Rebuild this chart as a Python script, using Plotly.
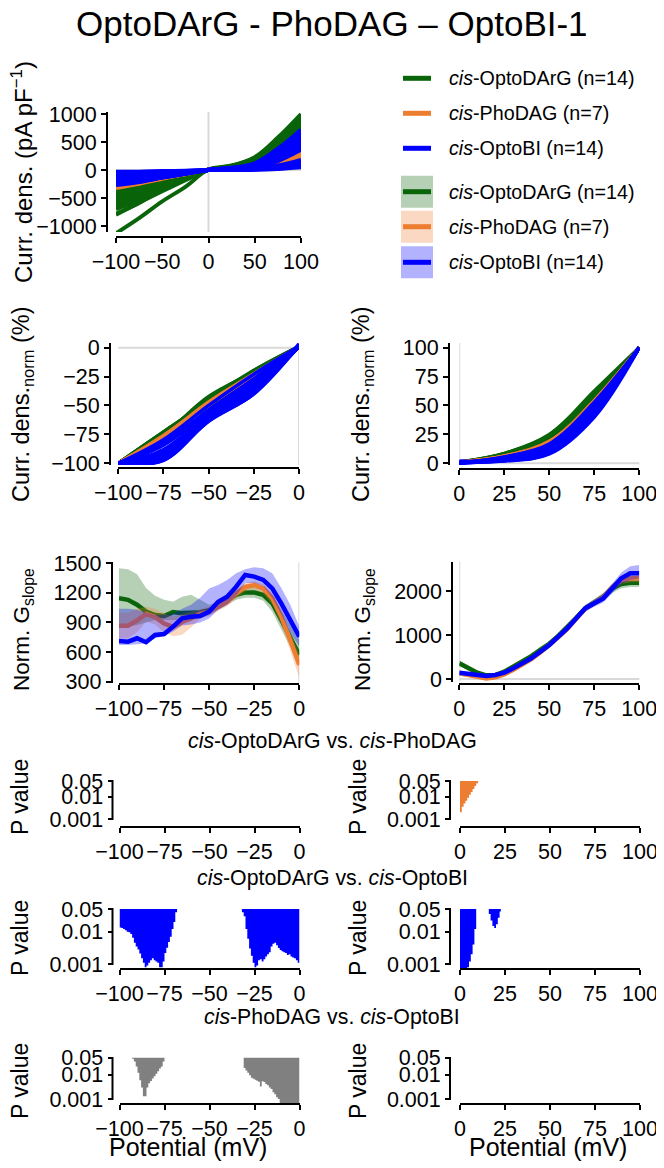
import plotly.graph_objects as go

# The page places the figure 8 px from the top-left corner, so the figure is
# 8 px smaller than the window and every reference pixel is shifted by 8.
W, H = 656, 1160
OFF = 8
FONT = "Liberation Sans, Arial, sans-serif"

GREEN = "#0A640A"
ORANGE = "#ED7D31"
BLUE = "#0000FF"
GRAY = "#808080"
GREEN_F = "rgba(10,100,10,0.30)"
ORANGE_F = "rgba(237,125,49,0.30)"
BLUE_F = "rgba(0,0,255,0.30)"

# ---------------- data ----------------
# I-V, current density (pA/pF) per cell at these potentials (mV)
iv_potential = [-100, -75, -50, -25, 0, 25, 50, 75, 100]
optodarg_iv = [
    [-1130, -860, -560, -300, 10, 80, 230, 580, 1000],
    [-800, -585, -380, -180, 5, 70, 200, 520, 950],
    [-780, -590, -330, -165, 5, 60, 190, 500, 900],
    [-700, -530, -330, -140, 8, 75, 220, 540, 880],
    [-650, -505, -300, -140, 5, 55, 150, 470, 850],
    [-600, -455, -305, -160, 6, 60, 180, 480, 820],
    [-560, -420, -250, -110, 4, 50, 170, 460, 780],
    [-520, -380, -240, -115, 5, 55, 160, 420, 760],
    [-480, -360, -215, -100, 5, 60, 175, 450, 720],
    [-450, -340, -230, -120, 4, 45, 140, 400, 700],
    [-420, -325, -200, -90, 3, 40, 130, 380, 650],
    [-380, -285, -165, -80, 3, 35, 110, 330, 600],
    [-350, -255, -165, -75, 3, 30, 95, 280, 520],
    [-300, -225, -140, -62, 2, 25, 80, 240, 420],
]
phodag_iv = [
    [-320, -245, -155, -75, 3, 20, 60, 170, 320],
    [-290, -225, -145, -70, 3, 18, 55, 155, 290],
    [-270, -205, -130, -62, 2, 15, 45, 140, 260],
    [-250, -195, -122, -60, 2, 14, 42, 125, 230],
    [-230, -176, -108, -52, 2, 12, 35, 105, 200],
    [-210, -162, -102, -50, 2, 10, 32, 95, 180],
    [-190, -148, -90, -44, 1, 9, 28, 85, 160],
]
optobi_iv = [
    [-270, -215, -135, -62, 3, 40, 120, 380, 720],
    [-250, -205, -135, -68, 2, 35, 110, 350, 680],
    [-240, -200, -130, -65, 3, 30, 90, 320, 650],
    [-225, -190, -125, -65, 2, 30, 90, 300, 600],
    [-210, -185, -120, -62, 2, 25, 80, 280, 560],
    [-195, -175, -115, -60, 2, 20, 70, 250, 520],
    [-180, -165, -108, -60, 2, 18, 60, 230, 480],
    [-165, -155, -100, -55, 1, 15, 50, 200, 440],
    [-150, -143, -92, -52, 1, 12, 45, 180, 400],
    [-130, -126, -82, -48, 1, 10, 40, 160, 360],
    [-110, -107, -68, -40, 1, 6, 20, 80, 180],
    [-80, -78, -50, -30, 1, 3, 12, 60, 130],
    [-55, -53, -35, -22, 1, 2, 8, 40, 90],
    [-30, -29, -19, -12, 1, 1, 4, 20, 50],
]

# Normalized slope conductance, mean and SEM band
gs_neg_potential = [-100, -95, -90, -85, -80, -75, -70, -65, -60, -55, -50,
                    -45, -40, -35, -30, -25, -20, -15, -10, -5, 0]
gs_neg_optodarg_mean = [1145, 1130, 1080, 1010, 975, 965, 1005, 995, 1000, 1005, 1025,
                        1065, 1125, 1180, 1205, 1205, 1180, 1095, 925, 755, 570]
gs_neg_optodarg_upper = [1450, 1440, 1390, 1250, 1170, 1130, 1110, 1160, 1180, 1130, 1080,
                         1110, 1170, 1230, 1255, 1265, 1245, 1180, 1030, 880, 720]
gs_neg_optodarg_lower = [860, 860, 875, 900, 925, 925, 925, 925, 925, 945, 975,
                         1025, 1080, 1130, 1150, 1150, 1120, 1010, 830, 650, 480]
gs_neg_phodag_mean = [868, 868, 920, 985, 955, 890, 855, 905, 940, 990, 1010,
                      1060, 1110, 1195, 1260, 1280, 1245, 1145, 960, 720, 470]
gs_neg_phodag_upper = [1000, 1000, 1040, 1060, 1040, 990, 960, 985, 1010, 1040, 1060,
                       1100, 1160, 1240, 1300, 1320, 1290, 1200, 1030, 800, 580]
gs_neg_phodag_lower = [740, 740, 800, 910, 880, 800, 760, 775, 850, 940, 965,
                       1020, 1065, 1145, 1215, 1235, 1195, 1085, 880, 620, 340]
gs_neg_optobi_mean = [712, 706, 740, 700, 773, 783, 858, 942, 959, 966, 1010,
                      1111, 1162, 1263, 1382, 1365, 1331, 1246, 1094, 925, 756]
gs_neg_optobi_upper = [1040, 1040, 1030, 1000, 975, 975, 990, 1040, 1080, 1150, 1245,
                       1280, 1330, 1400, 1440, 1460, 1450, 1400, 1250, 1080, 860]
gs_neg_optobi_lower = [672, 672, 680, 690, 740, 760, 810, 870, 880, 900, 940,
                       1030, 1080, 1170, 1300, 1300, 1270, 1150, 980, 790, 660]

gs_pos_potential = [0, 5, 10, 15, 20, 25, 30, 35, 40, 45, 50,
                    55, 60, 65, 70, 75, 80, 85, 90, 95, 100]
gs_pos_optodarg_mean = [356, 242, 144, 83, 91, 167, 280, 400, 520, 660, 800,
                        980, 1170, 1390, 1610, 1740, 1871, 2061, 2159, 2189, 2189]
gs_pos_optodarg_upper = [420, 295, 185, 120, 126, 207, 330, 460, 580, 730, 870,
                         1050, 1240, 1460, 1680, 1820, 1960, 2160, 2260, 2290, 2290]
gs_pos_optodarg_lower = [300, 195, 105, 50, 56, 127, 230, 340, 460, 590, 730,
                         910, 1100, 1320, 1540, 1660, 1780, 1960, 2060, 2090, 2090]
gs_pos_phodag_mean = [129, 90, 53, 15, 38, 106, 210, 330, 450, 600, 760,
                      950, 1140, 1370, 1600, 1730, 1860, 2090, 2250, 2288, 2288]
gs_pos_phodag_upper = [180, 135, 95, 55, 80, 150, 260, 385, 510, 660, 820,
                       1010, 1200, 1430, 1660, 1790, 1930, 2170, 2340, 2380, 2380]
gs_pos_phodag_lower = [80, 45, 10, -20, 0, 60, 160, 275, 390, 540, 700,
                       890, 1080, 1310, 1540, 1670, 1790, 2010, 2160, 2200, 2200]
gs_pos_optobi_mean = [144, 114, 76, 68, 91, 144, 242, 356, 470, 621, 773,
                      962, 1152, 1379, 1606, 1720, 1833, 2061, 2288, 2402, 2402]
gs_pos_optobi_upper = [185, 150, 110, 100, 125, 185, 290, 410, 530, 685, 840,
                       1030, 1225, 1450, 1680, 1800, 1930, 2170, 2420, 2560, 2590]
gs_pos_optobi_lower = [105, 80, 45, 36, 57, 105, 195, 300, 410, 560, 705,
                       895, 1080, 1310, 1530, 1640, 1740, 1950, 2160, 2250, 2290]

# P values (1-mV steps) where p < 0.05
p_dp_pos_v = [0, 1, 2, 3, 4, 5, 6, 7, 8, 9]
p_dp_pos_p = [0.0020, 0.0035, 0.0050, 0.0065, 0.0090, 0.012, 0.016, 0.022, 0.030, 0.040]
p_dp_pos_end = 10

p_db_neg1_v = list(range(-100, -68))
p_db_neg1_p = [0.0135, 0.013, 0.012, 0.011, 0.010, 0.0095, 0.0085, 0.0065, 0.0045, 0.0035,
               0.0028, 0.0021, 0.0015, 0.0011, 0.0008, 0.0009, 0.0011, 0.0013, 0.0015, 0.0013,
               0.0012, 0.0011, 0.0008, 0.0008, 0.0012, 0.0022, 0.0032, 0.0048, 0.007, 0.012,
               0.02, 0.04]
p_db_neg1_end = -68
p_db_neg2_v = list(range(-32, 0))
p_db_neg2_p = [0.04, 0.03, 0.012, 0.006, 0.003, 0.0018, 0.0011, 0.0008, 0.0009, 0.0013,
               0.0014, 0.0012, 0.0014, 0.0017, 0.0020, 0.0023, 0.0035, 0.0042, 0.0045, 0.0038,
               0.0031, 0.0027, 0.0025, 0.0023, 0.0022, 0.0019, 0.0020, 0.0017, 0.0016, 0.0015,
               0.0013, 0.0011]
p_db_neg2_end = 0
p_db_pos1_v = [0, 1, 2, 3, 4, 5, 6, 7, 8]
p_db_pos1_p = [0.0007, 0.0007, 0.0007, 0.0007, 0.0008, 0.0012, 0.002, 0.004, 0.012]
p_db_pos1_end = 9
p_db_pos2_v = [16, 17, 18, 19, 20, 21, 22]
p_db_pos2_p = [0.035, 0.022, 0.015, 0.013, 0.017, 0.027, 0.042]
p_db_pos2_end = 22.7

p_pb_neg1_v = list(range(-93, -75))
p_pb_neg1_p = [0.045, 0.035, 0.022, 0.012, 0.006, 0.003, 0.0013, 0.0013, 0.003, 0.0045,
               0.0055, 0.007, 0.0087, 0.011, 0.014, 0.018, 0.022, 0.035]
p_pb_neg1_end = -75
p_pb_neg2_v = list(range(-31, 0))
p_pb_neg2_p = [0.019, 0.015, 0.012, 0.0095, 0.0075, 0.0068, 0.0062, 0.0056, 0.0052, 0.0033,
               0.0054, 0.0050, 0.0042, 0.0037, 0.0030, 0.0026, 0.0019, 0.0016, 0.0012, 0.0010,
               0.0007, 0.0007, 0.0007, 0.0007, 0.0007, 0.0007, 0.0007, 0.0007, 0.0007, 0.0007,
               0.0007]
p_pb_neg2_end = 0

legend_names = ["<i>cis</i>-OptoDArG (n=14)", "<i>cis</i>-PhoDAG (n=7)", "<i>cis</i>-OptoBI (n=14)"]

# ---------------- figure ----------------
def fx(p):
    return (p - OFF) / W

def fy(p):
    return 1 - (p - OFF) / H

fig = go.Figure()
layout = dict(width=W, height=H, margin=dict(l=0, r=0, t=0, b=0, pad=0, autoexpand=False),
              paper_bgcolor="white", plot_bgcolor="white", showlegend=False,
              template="none", font=dict(family=FONT, color="black"))
shapes = []
annotations = []
TICKSIZE = 21.5

def add_axes(i, xdom, xrange, xtick, xline, ydom, yrange, ytick, yline, ylog=False,
             yticktext=None, show_yline=True):
    sx = "" if i == 1 else str(i)
    common = dict(showgrid=False, zeroline=False, linecolor="black", linewidth=2,
                  ticks="outside", ticklen=5, tickwidth=2, tickcolor="black",
                  tickfont=dict(family=FONT, size=TICKSIZE, color="black"), anchor="free",
                  automargin=False, tickangle=0, fixedrange=True)
    layout["xaxis" + sx] = dict(common, domain=[fx(xdom[0]), fx(xdom[1])], range=xrange,
                                tickvals=xtick, showline=True, position=fy(xline))
    ya = dict(common, domain=[fy(ydom[1]), fy(ydom[0])], range=yrange, tickvals=ytick,
              showline=show_yline, position=fx(yline))
    if ylog:
        ya["type"] = "log"
    if yticktext:
        ya["ticktext"] = yticktext
    layout["yaxis" + sx] = ya

def refs(i):
    return ("x" if i == 1 else "x%d" % i), ("y" if i == 1 else "y%d" % i)

def zero_v(i):
    xr, yr = refs(i)
    shapes.append(dict(type="line", xref=xr, yref=yr + " domain", x0=0, x1=0, y0=0, y1=1,
                       line=dict(color="#d9d9d9", width=2), layer="below"))

def zero_h(i):
    xr, yr = refs(i)
    shapes.append(dict(type="line", xref=xr + " domain", yref=yr, x0=0, x1=1, y0=0, y1=0,
                       line=dict(color="#d9d9d9", width=2), layer="below"))

# Panel 1: I-V
add_axes(1, (116, 301), [-100, 100], [-100, -50, 0, 50, 100], 237,
         (112, 232), [-1107, 1036], [-1000, -500, 0, 500, 1000], 107)
zero_v(1); zero_h(1)
# Panel 2/3: normalized current
add_axes(2, (118.3, 299), [-100, 0], [-100, -75, -50, -25, 0], 468.3,
         (343, 465), [-101.5, 4.0], [-100, -75, -50, -25, 0], 110)
zero_v(2); zero_h(2)
add_axes(3, (459.3, 639.3), [0, 100], [0, 25, 50, 75, 100], 469,
         (343, 465), [-1.5, 104], [0, 25, 50, 75, 100], 449)
zero_v(3); zero_h(3)
# Panel 4/5: slope conductance
add_axes(4, (119, 299.3), [-100, 0], [-100, -75, -50, -25, 0], 684,
         (562.3, 683.3), [283.8, 1510], [300, 600, 900, 1200, 1500], 111.7)
zero_v(4)
add_axes(5, (459.3, 639.3), [0, 100], [0, 25, 50, 75, 100], 684,
         (561.7, 681.7), [-61, 2666], [0, 1000, 2000], 452.3)
zero_v(5); zero_h(5)

# P value panels
prow = [  # (ydom top, x-axis line, yrange, y-line bottom)
    (780, 827, [-3.357, -1.256], 820),
    (908, 969, [-3.154, -1.27], 965),
    (1057, 1104, [-3.2, -1.273], 1100),
]
pidx = 6
for (ytop, xl, yr, ylb) in prow:
    for side in (0, 1):
        if side == 0:
            add_axes(pidx, (119.5, 299.5), [-100, 0], [-100, -75, -50, -25, 0], xl,
                     (ytop, xl), yr, [0.001, 0.01, 0.05], 112.5, ylog=True,
                     yticktext=["0.001", "0.01", "0.05"], show_yline=False)
            xline_px = 112.5
        else:
            add_axes(pidx, (460, 640), [0, 100], [0, 25, 50, 75, 100], xl,
                     (ytop, xl), yr, [0.001, 0.01, 0.05], 450, ylog=True,
                     yticktext=["0.001", "0.01", "0.05"], show_yline=False)
            xline_px = 450
        shapes.append(dict(type="line", xref="paper", yref="paper",
                           x0=fx(xline_px), x1=fx(xline_px), y0=fy(ytop), y1=fy(ylb),
                           line=dict(color="black", width=2)))
        xr, yrf = refs(pidx)
        # empty trace so that every subplot (even one with no significant region) is drawn
        fig.add_trace(go.Scatter(x=[], y=[], mode="lines", xaxis=xr, yaxis=yrf, hoverinfo="skip"))
        pidx += 1

# ---- traces ----
def lines_panel(i, groups, mapper, width):
    xr, yr = refs(i)
    for cells, color in groups:
        for c in cells:
            xs, ys = mapper(c)
            fig.add_trace(go.Scatter(x=xs, y=ys, mode="lines", xaxis=xr, yaxis=yr,
                                     line=dict(color=color, width=width, shape="spline"),
                                     hoverinfo="skip"))

groups = [(optodarg_iv, GREEN), (phodag_iv, ORANGE), (optobi_iv, BLUE)]
lines_panel(1, groups, lambda c: (iv_potential, c), 4)
lines_panel(2, groups, lambda c: (iv_potential[:5], [100 * v / abs(c[0]) for v in c[:5]]), 3.5)
lines_panel(3, groups, lambda c: (iv_potential[4:], [100 * v / c[-1] for v in c[4:]]), 3.5)

def band_panel(i, xs, sets):
    xr, yr = refs(i)
    for mean, up, lo, color, fcol in sets:
        fig.add_trace(go.Scatter(x=xs + xs[::-1], y=up + lo[::-1], mode="lines", fill="toself",
                                 fillcolor=fcol, line=dict(width=0, color=fcol),
                                 xaxis=xr, yaxis=yr, hoverinfo="skip"))
        fig.add_trace(go.Scatter(x=xs, y=mean, mode="lines", line=dict(color=color, width=4.5),
                                 xaxis=xr, yaxis=yr, hoverinfo="skip"))

band_panel(4, gs_neg_potential, [
    (gs_neg_optodarg_mean, gs_neg_optodarg_upper, gs_neg_optodarg_lower, GREEN, GREEN_F),
    (gs_neg_phodag_mean, gs_neg_phodag_upper, gs_neg_phodag_lower, ORANGE, ORANGE_F),
    (gs_neg_optobi_mean, gs_neg_optobi_upper, gs_neg_optobi_lower, BLUE, BLUE_F),
])
band_panel(5, gs_pos_potential, [
    (gs_pos_optodarg_mean, gs_pos_optodarg_upper, gs_pos_optodarg_lower, GREEN, GREEN_F),
    (gs_pos_phodag_mean, gs_pos_phodag_upper, gs_pos_phodag_lower, ORANGE, ORANGE_F),
    (gs_pos_optobi_mean, gs_pos_optobi_upper, gs_pos_optobi_lower, BLUE, BLUE_F),
])

def pfill(i, v, p, end, color):
    xr, yr = refs(i)
    xs = list(v) + [end, end, v[0]]
    ys = list(p) + [p[-1], 0.05, 0.05]
    fig.add_trace(go.Scatter(x=xs, y=ys, mode="lines", fill="toself", fillcolor=color,
                             line=dict(width=0, color=color, shape="hv"),
                             xaxis=xr, yaxis=yr, hoverinfo="skip"))

pfill(7, p_dp_pos_v, p_dp_pos_p, p_dp_pos_end, ORANGE)
pfill(8, p_db_neg1_v, p_db_neg1_p, p_db_neg1_end, BLUE)
pfill(8, p_db_neg2_v, p_db_neg2_p, p_db_neg2_end, BLUE)
pfill(9, p_db_pos1_v, p_db_pos1_p, p_db_pos1_end, BLUE)
pfill(9, p_db_pos2_v, p_db_pos2_p, p_db_pos2_end, BLUE)
pfill(10, p_pb_neg1_v, p_pb_neg1_p, p_pb_neg1_end, GRAY)
pfill(10, p_pb_neg2_v, p_pb_neg2_p, p_pb_neg2_end, GRAY)

# ---- text ----
def text(t, x, y, size=21, angle=0, xanchor="center"):
    annotations.append(dict(text=t, x=fx(x), y=fy(y), xref="paper", yref="paper",
                            showarrow=False, textangle=angle, xanchor=xanchor, yanchor="middle",
                            font=dict(family=FONT, size=size, color="black")))

text("OptoDArG - PhoDAG \u2013 OptoBI-1", 332, 23, size=35)
text("Curr. dens. (pA pF<sup>\u22121</sup>)", 22, 172, size=24, angle=-90)
text("Curr. dens.<sub>norm</sub> (%)", 22, 405, size=23.5, angle=-90)
text("Curr. dens.<sub>norm</sub> (%)", 362, 405, size=23.5, angle=-90)
text("Norm. G<sub>slope</sub>", 23, 630, size=22.5, angle=-90)
text("Norm. G<sub>slope</sub>", 364, 630, size=22.5, angle=-90)
text("<i>cis</i>-OptoDArG vs. <i>cis</i>-PhoDAG", 332, 741, size=21.3)
text("<i>cis</i>-OptoDArG vs. <i>cis</i>-OptoBI", 332, 878, size=21.3)
text("<i>cis</i>-PhoDAG vs. <i>cis</i>-OptoBI", 332, 1017, size=21.3)
for yc in (797, 938, 1081):
    text("P value", 20, yc, size=23, angle=-90)
    text("P value", 358, yc, size=23, angle=-90)
text("Potential (mV)", 188, 1147, size=25)
text("Potential (mV)", 548, 1147, size=25)

# manual legend
colors = [GREEN, ORANGE, BLUE]
fills = [GREEN_F, ORANGE_F, BLUE_F]
line_rows = [78.3, 113.3, 148.3]
patch_rows = [191.7, 226.7, 262.3]
for k in range(3):
    shapes.append(dict(type="line", xref="paper", yref="paper", x0=fx(403), x1=fx(431),
                       y0=fy(line_rows[k]), y1=fy(line_rows[k]), line=dict(color=colors[k], width=5)))
    text(legend_names[k], 447, line_rows[k], size=19.7, xanchor="left")
    shapes.append(dict(type="rect", xref="paper", yref="paper", x0=fx(401), x1=fx(433),
                       y0=fy(patch_rows[k] + 16), y1=fy(patch_rows[k] - 16),
                       fillcolor=fills[k], line=dict(width=0)))
    shapes.append(dict(type="line", xref="paper", yref="paper", x0=fx(403), x1=fx(431),
                       y0=fy(patch_rows[k]), y1=fy(patch_rows[k]), line=dict(color=colors[k], width=5)))
    text(legend_names[k], 447, patch_rows[k], size=19.7, xanchor="left")

layout["shapes"] = shapes
layout["annotations"] = annotations
fig.update_layout(**layout)
fig.write_html("out.html")
